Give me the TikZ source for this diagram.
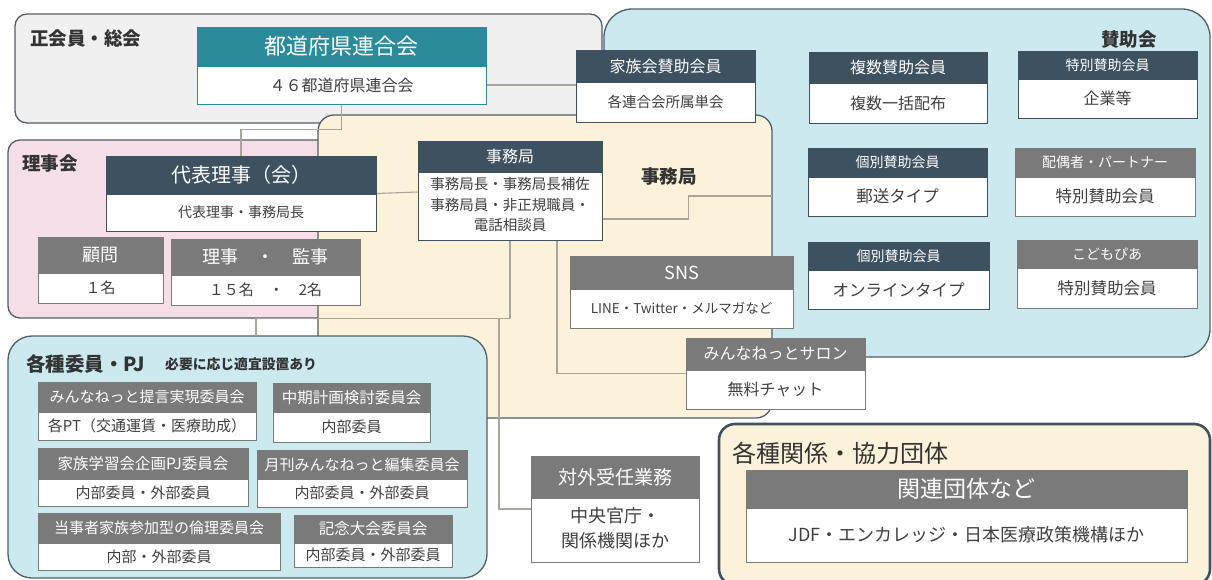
\documentclass[tikz,border=0pt]{standalone}
\usepackage{fontspec}
\setmainfont{Noto Sans CJK JP}
\definecolor{slate}{HTML}{3E5160}
\definecolor{midgray}{HTML}{7A7A7A}
\definecolor{teal}{HTML}{2A8B9B}
\definecolor{graybg}{HTML}{F0F0F0}
\definecolor{bluebg}{HTML}{CCE9EF}
\definecolor{pinkbg}{HTML}{F5DEE7}
\definecolor{beigebg}{HTML}{FCF2D9}
\definecolor{regionline}{HTML}{505E6A}
\definecolor{bodytext}{HTML}{404040}
\definecolor{labeltext}{HTML}{333333}
\definecolor{linegray}{HTML}{A9A59D}
\newcommand\fz[2]{\fontsize{#1}{#2}\selectfont}
\newcommand\ml[1]{\begin{tabular}{@{}c@{}}#1\end{tabular}}
\pgfdeclarelayer{bg}
\pgfdeclarelayer{conn}
\pgfsetlayers{bg,conn,main}
\tikzset{
  region/.style={draw=regionline, line width=1.3pt},
  cardh/.style={fill=#1, draw=#1, line width=1pt, text=white, inner sep=0pt},
  cardb/.style={fill=white, draw=#1, line width=1pt, text=bodytext, inner sep=0pt},
  lbl/.style={text=labeltext, inner sep=0pt},
  conn/.style={draw=linegray, line width=1.1pt},
}
% #1 name #2 x1 #3 x2 #4 y1 #5 ymid #6 y2 #7 colour #8 header #9 body
\newcommand\card[9]{%
  \node[cardh=#7, minimum width={(#3-#2)*1pt}, minimum height={(#5-#4)*1pt}]
    (#1-h) at ({(#2+#3)/2},{(#4+#5)/2}) {#8};
  \node[cardb=#7, minimum width={(#3-#2)*1pt}, minimum height={(#6-#5)*1pt}]
    (#1-b) at ({(#2+#3)/2},{(#5+#6)/2}) {#9};
}
\begin{document}
\begin{tikzpicture}[x=1pt,y=-1pt]
\useasboundingbox (0,0) rectangle (1212,579);
\begin{pgfonlayer}{bg}
  \fill[white] (0,0) rectangle (1212,579);
  \draw[region, fill=graybg, rounded corners=12pt] (15,14) rectangle (602,123);
  \draw[region, fill=bluebg, rounded corners=28pt] (604,9) rectangle (1210,357);
  \draw[region, fill=pinkbg, rounded corners=12pt] (8,140) rectangle (345,318);
  \draw[region, fill=beigebg, rounded corners=16pt] (318,115) rectangle (772,418);
  \draw[region, fill=bluebg, rounded corners=24pt] (8,336) rectangle (487,578);
  \draw[draw=slate, line width=2.6pt, fill=beigebg, rounded corners=16pt] (719,424) rectangle (1210,585);
\end{pgfonlayer}

% region labels
\node[lbl, anchor=west] (l-sei) at (30,38) {\fz{18.5}{22}\bfseries 正会員・総会};
\node[lbl] (l-san) at (1129,40) {\fz{18.5}{22}\bfseries 賛助会};
\node[lbl, anchor=west] (l-rij) at (22,163) {\fz{18.5}{22}\bfseries 理事会};
\node[lbl] (l-jim) at (669,176) {\fz{18.5}{22}\bfseries 事務局};
\node[lbl, anchor=west] (l-iin) at (26,364) {\fz{19.5}{23}\bfseries 各種委員・PJ};
\node[lbl, anchor=west] (l-hit) at (165,364) {\fz{13.8}{16}\bfseries 必要に応じ適宜設置あり};
\node[lbl, anchor=west] (l-kyo) at (732,453) {\fz{24}{28}各種関係・協力団体};

% cards
\card{tdfk}{197}{486}{27}{66}{104}{teal}{\fz{22}{26}都道府県連合会}{\fz{16}{20}４６都道府県連合会}
\card{kzk}{576}{755}{50}{82}{122}{slate}{\fz{16}{20}家族会賛助会員}{\fz{14.5}{18}各連合会所属単会}
\card{fks}{809}{987}{52}{83}{123}{slate}{\fz{16}{20}複数賛助会員}{\fz{16}{20}複数一括配布}
\card{tkb}{1018}{1197}{51}{79}{118}{slate}{\fz{14}{18}特別賛助会員}{\fz{16}{20}企業等}
\card{ybs}{808}{987}{148}{177}{216}{slate}{\fz{14}{18}個別賛助会員}{\fz{16.5}{20}郵送タイプ}
\card{hgs}{1015}{1195}{148}{177}{216}{midgray}{\fz{14}{18}配偶者・パートナー}{\fz{16.5}{20}特別賛助会員}
\card{onl}{808}{989}{242}{270}{309}{slate}{\fz{14}{18}個別賛助会員}{\fz{16.5}{20}オンラインタイプ}
\card{kdm}{1017}{1197}{240}{268}{308}{midgray}{\fz{14}{18}こどもぴあ}{\fz{16.5}{20}特別賛助会員}
\card{dai}{106}{376}{156}{194}{231}{slate}{\fz{20}{24}代表理事（会）}{\fz{14}{18}代表理事・事務局長}
\card{kmn}{38}{163}{237}{273}{303}{midgray}{\fz{18}{22}顧問}{\fz{15}{18}１名}
\card{rij}{171}{360}{239}{275}{305}{midgray}{\fz{18}{22}理事　・　監事}{\fz{15}{18}１５名　・　2名}
\card{jmk}{418}{602}{141}{172}{240}{slate}{\fz{16}{20}事務局}{\fz{14.5}{20.5}\ml{事務局長・事務局長補佐\\事務局員・非正規職員・\\電話相談員}}
\card{sns}{570}{793}{256}{289}{328}{midgray}{\fz{18}{22}SNS}{\fz{13.5}{18}LINE・Twitter・メルマガなど}
\card{sal}{686}{865}{338}{370}{409}{midgray}{\fz{16}{20}みんなねっとサロン}{\fz{16}{20}無料チャット}
\card{c1}{38}{256}{382}{412}{440}{midgray}{\fz{15}{18}みんなねっと提言実現委員会}{\fz{15}{18}各PT（交通運賃・医療助成）}
\card{c2}{273}{430}{383}{412}{442}{midgray}{\fz{15.5}{18}中期計画検討委員会}{\fz{15}{18}内部委員}
\card{c3}{38}{248}{448}{479}{506}{midgray}{\fz{15.5}{18}家族学習会企画PJ委員会}{\fz{15}{18}内部委員・外部委員}
\card{c4}{257}{467}{450}{479}{507}{midgray}{\fz{15}{18}月刊みんなねっと編集委員会}{\fz{15}{18}内部委員・外部委員}
\card{c5}{38}{280}{513}{543}{570}{midgray}{\fz{15}{18}当事者家族参加型の倫理委員会}{\fz{15}{18}内部・外部委員}
\card{c6}{294}{452}{515}{543}{567}{midgray}{\fz{15.5}{18}記念大会委員会}{\fz{15}{18}内部委員・外部委員}
\card{tgi}{531}{699}{456}{498}{562}{midgray}{\fz{19}{23}対外受任業務}{\fz{18}{25.5}\ml{中央官庁・\\関係機関ほか}}
\card{krn}{746}{1187}{470}{508}{562}{midgray}{\fz{23}{27}関連団体など}{\fz{18}{22}JDF・エンカレッジ・日本医療政策機構ほか}

% connector end points
\coordinate (jimend) at (772,196);
\coordinate (iintop) at (256,336);
\coordinate (branch) at (499,318);

\begin{pgfonlayer}{conn}
  \draw[conn] (tdfk-b.east) -- (tdfk-b.east -| kzk-b.west);
  \draw[conn] (tdfk-b.south) -- ++(0,25) -| (dai-h.north);
  \draw[conn] (dai-b.north east) -- ([yshift=14pt]jmk-b.west);
  \draw[conn] ([yshift=-13pt]jmk-b.east) -- ++(86,0) |- (jimend);
  \draw[conn] (jmk-b.south) -- ++(0,78) -| (iintop);
  \draw[conn] (branch) |- ([yshift=21pt]tgi-b.west);
  \draw[conn] ([xshift=47pt]jmk-b.south) |- ([yshift=16pt]sal-b.west);
\end{pgfonlayer}
\end{tikzpicture}
\end{document}
